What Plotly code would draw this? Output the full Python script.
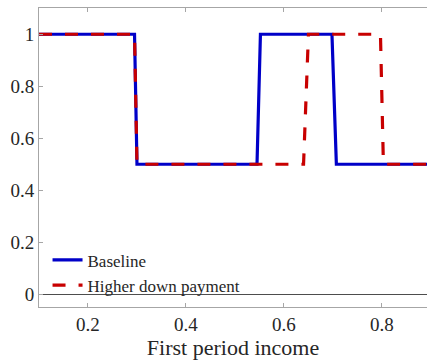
import plotly.graph_objects as go

# Step-shaped policy functions over first period income
baseline_x = [0.1, 0.295, 0.300, 0.545, 0.552, 0.698, 0.707, 0.9]
baseline_y = [1, 1, 0.5, 0.5, 1, 1, 0.5, 0.5]

higher_dp_x = [0.1, 0.295, 0.300, 0.640, 0.650, 0.797, 0.803, 0.9]
higher_dp_y = [1, 1, 0.5, 0.5, 1, 1, 0.5, 0.5]

x_ticks = [0.2, 0.4, 0.6, 0.8]
y_ticks = [0, 0.2, 0.4, 0.6, 0.8, 1]

serif = "Liberation Serif"
text_col = "#262626"
axis_grey = "#a6a6a6"

fig = go.Figure()
fig.add_trace(go.Scatter(
    x=baseline_x, y=baseline_y, mode="lines", name="Baseline",
    line=dict(color="#0000c8", width=3.2),
))
fig.add_trace(go.Scatter(
    x=higher_dp_x, y=higher_dp_y, mode="lines", name="Higher down payment",
    line=dict(color="#c80000", width=3.2, dash="13px,13px"),
))

fig.update_layout(
    width=427, height=360,
    margin=dict(l=39, r=0, t=8, b=53),
    paper_bgcolor="white", plot_bgcolor="white",
    font=dict(family=serif, color=text_col),
    showlegend=True,
    legend=dict(
        x=0.022, y=0.012, xanchor="left", yanchor="bottom",
        bgcolor="rgba(0,0,0,0)", borderwidth=0,
        font=dict(family=serif, size=17, color=text_col),
        tracegroupgap=0, itemwidth=30,
    ),
    xaxis=dict(
        range=[0.1, 0.892], tickvals=x_ticks,
        ticktext=[f"{v:g}" for v in x_ticks],
        showgrid=False, zeroline=False,
        showline=True, linecolor=axis_grey, linewidth=1, mirror="ticks",
        ticks="inside", ticklen=4, tickcolor=axis_grey,
        tickfont=dict(family=serif, size=19, color=text_col),
        title=dict(text="First period income",
                   font=dict(family=serif, size=22, color=text_col),
                   standoff=4),
    ),
    yaxis=dict(
        range=[-0.049, 1.101], tickvals=y_ticks,
        ticktext=[f"{v:g}" for v in y_ticks],
        showgrid=False,
        zeroline=True, zerolinecolor="#4d4d4d", zerolinewidth=1.2,
        showline=True, linecolor=axis_grey, linewidth=1, mirror=False,
        ticks="inside", ticklen=4, tickcolor=axis_grey,
        tickfont=dict(family=serif, size=19, color=text_col),
    ),
)

fig.write_html("out.html")
